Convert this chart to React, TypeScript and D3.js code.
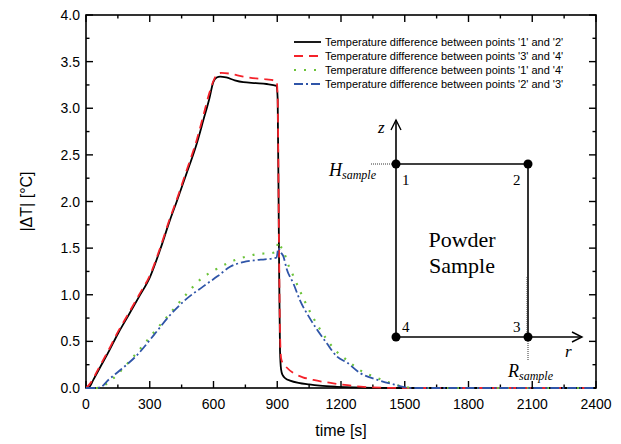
import React from "react";
import * as d3 from "d3";

const W = 621;
const H = 444;

const xTicks = [0, 300, 600, 900, 1200, 1500, 1800, 2100, 2400];
const yTicks = [0, 0.5, 1.0, 1.5, 2.0, 2.5, 3.0, 3.5, 4.0];

const legendLabels = [
  "Temperature difference between points '1' and '2'",
  "Temperature difference between points '3' and '4'",
  "Temperature difference between points '1' and '4'",
  "Temperature difference between points '2' and '3'",
];

const t12 = [0, 15, 35, 66, 100, 152, 200, 250, 301, 350, 395, 427, 470, 521, 552, 580, 599, 615, 631, 660, 700, 740, 800, 850, 897, 902, 908, 913, 918, 925, 940, 960, 1000, 1050, 1100, 1180, 1260, 1350, 1500, 1800, 2100, 2400];
const v12 = [0, 0.01, 0.09, 0.22, 0.36, 0.59, 0.78, 0.98, 1.19, 1.49, 1.8, 2.0, 2.28, 2.62, 2.87, 3.1, 3.28, 3.33, 3.34, 3.33, 3.3, 3.28, 3.27, 3.26, 3.24, 3.1, 1.5, 0.4, 0.2, 0.14, 0.1, 0.08, 0.055, 0.038, 0.025, 0.013, 0.006, 0.002, 0, 0, 0, 0];

const t34 = [0, 20, 66, 100, 152, 200, 250, 301, 350, 395, 427, 470, 521, 552, 580, 605, 620, 638, 680, 740, 800, 850, 897, 902, 908, 913, 918, 925, 940, 983, 1020, 1070, 1164, 1230, 1305, 1400, 1500, 1800, 2100, 2400];
const v34 = [0, 0.05, 0.24, 0.38, 0.61, 0.8, 1.0, 1.21, 1.51, 1.82, 2.02, 2.31, 2.66, 2.92, 3.16, 3.32, 3.37, 3.38, 3.37, 3.34, 3.32, 3.31, 3.29, 3.1, 1.6, 0.6, 0.32, 0.27, 0.23, 0.15, 0.115, 0.086, 0.05, 0.03, 0.012, 0.003, 0, 0, 0, 0];

const t14 = [0, 50, 100, 160, 240, 317, 395, 470, 536, 610, 678, 725, 772, 819, 866, 895, 905, 915, 929, 944, 980, 1023, 1080, 1133, 1180, 1227, 1290, 1368, 1430, 1492, 1560, 1800, 2100, 2400];
const v14 = [0, 0, 0.05, 0.175, 0.38, 0.59, 0.8, 1.0, 1.16, 1.27, 1.35, 1.39, 1.42, 1.44, 1.445, 1.46, 1.57, 1.52, 1.48, 1.37, 1.18, 0.96, 0.71, 0.52, 0.39, 0.3, 0.19, 0.11, 0.055, 0.015, 0, 0, 0, 0];

const t23 = [0, 50, 70, 105, 160, 239, 320, 395, 470, 552, 620, 678, 740, 795, 842, 881, 897, 905, 915, 929, 944, 976, 1007, 1050, 1086, 1133, 1180, 1230, 1290, 1368, 1446, 1530, 1800, 2100, 2400];
const v23 = [0, 0, 0.01, 0.086, 0.19, 0.35, 0.57, 0.78, 0.95, 1.09, 1.2, 1.3, 1.35, 1.37, 1.38, 1.39, 1.4, 1.5, 1.46, 1.41, 1.28, 1.12, 0.94, 0.76, 0.63, 0.48, 0.34, 0.27, 0.16, 0.09, 0.04, 0, 0, 0, 0];

const seriesStyles = [
  { color: "#000000", dash: "none", width: 1.8 },
  { color: "#f4222a", dash: "9,6", width: 1.8 },
  { color: "#6cc33a", dash: "2,8", width: 2.2 },
  { color: "#2f55a8", dash: "9,3,2,3", width: 1.8 },
];

const FONT = "'Liberation Sans', Arial, Helvetica, sans-serif";
const SERIF = "'Liberation Serif', 'Times New Roman', serif";

export default function App() {
  const left = 86, right = 596, top = 15, bottom = 388;
  const x = d3.scaleLinear().domain([0, 2400]).range([left, right]);
  const y = d3.scaleLinear().domain([0, 4]).range([bottom, top]);

  const series = [
    [t12, v12],
    [t34, v34],
    [t14, v14],
    [t23, v23],
  ];
  const line = d3
    .line<[number, number]>()
    .x((d) => x(d[0]))
    .y((d) => y(d[1]))
    .curve(d3.curveMonotoneX);

  const xMinor = d3.range(150, 2400, 300);
  const yMinor = d3.range(0.25, 4, 0.5);

  const majorLen = 7;
  const minorLen = 3.5;

  const p1 = [396, 164];
  const p2 = [528, 164];
  const p3 = [528, 337];
  const p4 = [396, 337];

  return (
    <svg
      width={W}
      height={H}
      style={{ position: "fixed", left: 0, top: 0, background: "#fff" }}
      fontFamily={FONT}
    >
      <rect x={0} y={0} width={W} height={H} fill="#fff" />
      <defs>
        <clipPath id="plotclip">
          <rect x={left} y={top} width={right - left} height={bottom - top + 1.5} />
        </clipPath>
      </defs>

      {/* frame */}
      <rect x={left} y={top} width={right - left} height={bottom - top} fill="none" stroke="#000" strokeWidth={1.6} />

      {/* x ticks */}
      {xTicks.map((t) => (
        <g key={"xt" + t}>
          <line x1={x(t)} x2={x(t)} y1={bottom} y2={bottom - majorLen} stroke="#000" strokeWidth={1.4} />
          <line x1={x(t)} x2={x(t)} y1={top} y2={top + majorLen} stroke="#000" strokeWidth={1.4} />
          <text x={x(t)} y={bottom + 21} textAnchor="middle" fontSize={14}>
            {t}
          </text>
        </g>
      ))}
      {xMinor.map((t) => (
        <g key={"xm" + t}>
          <line x1={x(t)} x2={x(t)} y1={bottom} y2={bottom - minorLen} stroke="#000" strokeWidth={1.4} />
          <line x1={x(t)} x2={x(t)} y1={top} y2={top + minorLen} stroke="#000" strokeWidth={1.4} />
        </g>
      ))}
      {yTicks.map((v) => (
        <g key={"yt" + v}>
          <line x1={left} x2={left + majorLen} y1={y(v)} y2={y(v)} stroke="#000" strokeWidth={1.4} />
          <line x1={right} x2={right - majorLen} y1={y(v)} y2={y(v)} stroke="#000" strokeWidth={1.4} />
          <text x={left - 6} y={y(v) + 5} textAnchor="end" fontSize={14}>
            {v.toFixed(1)}
          </text>
        </g>
      ))}
      {yMinor.map((v) => (
        <g key={"ym" + v}>
          <line x1={left} x2={left + minorLen} y1={y(v)} y2={y(v)} stroke="#000" strokeWidth={1.4} />
          <line x1={right} x2={right - minorLen} y1={y(v)} y2={y(v)} stroke="#000" strokeWidth={1.4} />
        </g>
      ))}

      {/* data lines (drawn over the frame) */}
      <g clipPath="url(#plotclip)">
        {series.map(([ts, vs], i) => (
          <path
            key={i}
            d={line(ts.map((t, j) => [t, vs[j]] as [number, number])) || ""}
            fill="none"
            stroke={seriesStyles[i].color}
            strokeWidth={seriesStyles[i].width}
            strokeDasharray={seriesStyles[i].dash}
          />
        ))}
      </g>

      {/* axis titles */}
      <text x={(left + right) / 2} y={436} textAnchor="middle" fontSize={16}>
        time [s]
      </text>
      <text
        transform={`translate(32, ${(top + bottom) / 2}) rotate(-90)`}
        textAnchor="middle"
        fontSize={16}
      >
        |ΔT| [°C]
      </text>

      {/* legend */}
      {legendLabels.map((lab, i) => {
        const ly = 42 + i * 14;
        return (
          <g key={"lg" + i}>
            <line
              x1={294}
              x2={321}
              y1={ly}
              y2={ly}
              stroke={seriesStyles[i].color}
              strokeWidth={seriesStyles[i].width}
              strokeDasharray={seriesStyles[i].dash}
            />
            <text x={325} y={ly + 4} fontSize={11}>
              {lab}
            </text>
          </g>
        );
      })}

      {/* inset diagram */}
      <g fontFamily={SERIF}>
        <line x1={p4[0]} y1={p4[1]} x2={p4[0]} y2={120} stroke="#000" strokeWidth={1.6} />
        <path d={`M${p4[0] - 5},${130} L${p4[0]},${120} L${p4[0] + 5},${130}`} fill="none" stroke="#000" strokeWidth={1.4} />
        <line x1={p4[0]} y1={p4[1]} x2={582} y2={p4[1]} stroke="#000" strokeWidth={1.6} />
        <path d={`M${572},${p4[1] - 5} L${582},${p4[1]} L${572},${p4[1] + 5}`} fill="none" stroke="#000" strokeWidth={1.4} />
        <line x1={p1[0]} y1={p1[1]} x2={p2[0]} y2={p2[1]} stroke="#000" strokeWidth={1.6} />
        <line x1={p2[0]} y1={p2[1]} x2={p3[0]} y2={p3[1]} stroke="#000" strokeWidth={1.6} />
        <line x1={371} y1={p1[1]} x2={p1[0]} y2={p1[1]} stroke="#000" strokeWidth={0.8} strokeDasharray="1,1" />
        <line x1={p3[0]} y1={p3[1]} x2={p3[0]} y2={360} stroke="#000" strokeWidth={0.8} strokeDasharray="1,1" />
        <line x1={p3[0] - 1.5} y1={277} x2={p3[0] - 1.5} y2={p3[1]} stroke="#666" strokeWidth={0.6} strokeDasharray="1,1" />
        {[p1, p2, p3, p4].map((p, i) => (
          <circle key={"pt" + i} cx={p[0]} cy={p[1]} r={4.5} fill="#000" />
        ))}
        <text x={402} y={185} fontSize={15}>1</text>
        <text x={513} y={185} fontSize={15}>2</text>
        <text x={513} y={332} fontSize={15}>3</text>
        <text x={402} y={332} fontSize={15}>4</text>
        <text x={462} y={247} textAnchor="middle" fontSize={22}>Powder</text>
        <text x={462} y={273} textAnchor="middle" fontSize={22}>Sample</text>
        <text x={378} y={133} fontSize={17} fontStyle="italic">z</text>
        <text x={565} y={357} fontSize={17} fontStyle="italic">r</text>
        <text x={376} y={176} textAnchor="end" fontStyle="italic">
          <tspan fontSize={18}>H</tspan>
          <tspan fontSize={12} dy={3}>sample</tspan>
        </text>
        <text x={508} y={377} fontStyle="italic">
          <tspan fontSize={18}>R</tspan>
          <tspan fontSize={12} dy={3}>sample</tspan>
        </text>
      </g>
    </svg>
  );
}
